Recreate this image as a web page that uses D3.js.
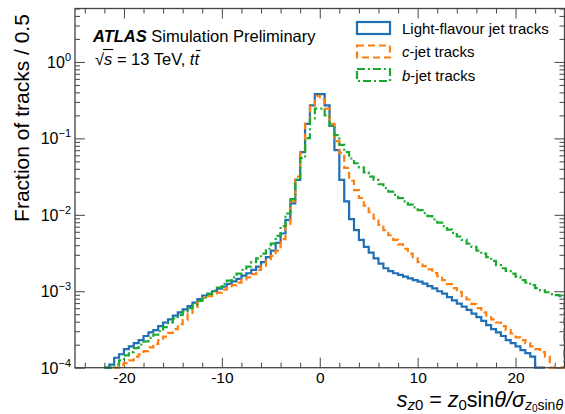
<!DOCTYPE html>
<html><head><meta charset="utf-8">
<script src="https://cdn.jsdelivr.net/npm/d3@7"></script>
<style>
body{margin:0;background:#fff}
svg{display:block}
text{font-family:"Liberation Sans",Arial,Helvetica,sans-serif}
</style>
</head><body>
<svg id="c" width="565" height="414"></svg>
<script>
// ---- data ----
// lower edges of the 0.5-wide bins
const binLow = [
 -22.5,-22,-21.5,-21,-20.5,-20,-19.5,-19,-18.5,-18,
 -17.5,-17,-16.5,-16,-15.5,-15,-14.5,-14,-13.5,-13,
 -12.5,-12,-11.5,-11,-10.5,-10,-9.5,-9,-8.5,-8,
 -7.5,-7,-6.5,-6,-5.5,-5,-4.5,-4,-3.5,-3,
 -2.5,-2,-1.5,-1,-0.5,0,0.5,1,1.5,2,
 2.5,3,3.5,4,4.5,5,5.5,6,6.5,7,
 7.5,8,8.5,9,9.5,10,10.5,11,11.5,12,
 12.5,13,13.5,14,14.5,15,15.5,16,16.5,17,
 17.5,18,18.5,19,19.5,20,20.5,21,21.5,22,
 22.5,23,23.5,24,24.5
];
const binWidth = 0.5;
const lightJet = [
 null,9e-5,1.1e-4,1.35e-4,1.5e-4,1.75e-4,1.9e-4,2.1e-4,2.3e-4,2.6e-4,
 2.9e-4,3.1e-4,3.5e-4,3.9e-4,4.3e-4,4.8e-4,5.3e-4,5.8e-4,6.4e-4,7.1e-4,
 7.9e-4,8.8e-4,9.3e-4,1.0e-3,1.08e-3,1.15e-3,1.25e-3,1.35e-3,1.45e-3,1.6e-3,
 1.72e-3,1.9e-3,2.1e-3,2.4e-3,2.8e-3,3.4e-3,4.3e-3,5.7e-3,8.6e-3,0.0141,
 0.0286,0.066,0.155,0.271,0.379,0.379,0.271,0.146,0.070,0.0286,
 0.015,0.0088,0.0063,0.0047,0.0038,0.0032,0.0027,0.0023,0.0020,0.00183,
 0.00172,0.00164,0.00155,0.00147,0.0014,0.00134,0.00126,0.00117,0.00109,0.001,
 0.00093,0.00084,0.00076,0.00069,0.00063,0.00057,0.00051,0.00046,0.00041,0.00036,
 0.00032,0.00029,0.00026,0.00023,0.00021,0.00019,0.00017,0.000155,0.00014,9e-5,
 9e-5,null,null,null,null
];
const cJet = [
 null,null,null,9e-5,1.1e-4,1.15e-4,1.25e-4,1.4e-4,1.5e-4,1.65e-4,
 1.85e-4,2.05e-4,2.3e-4,2.55e-4,2.85e-4,3.2e-4,3.7e-4,4.2e-4,5e-4,6e-4,
 7.2e-4,8.2e-4,8.6e-4,9e-4,9.6e-4,1.05e-3,1.12e-3,1.2e-3,1.3e-3,1.42e-3,
 1.52e-3,1.68e-3,1.9e-3,2.15e-3,2.5e-3,2.9e-3,3.4e-3,4.8e-3,7.2e-3,0.015,
 0.0316,0.069,0.155,0.262,0.361,0.325,0.245,0.155,0.092,0.0645,
 0.041,0.0279,0.021,0.0166,0.0132,0.0108,0.0089,0.0074,0.0063,0.0054,
 0.0047,0.0041,0.0036,0.0031,0.0027,0.0024,0.00213,0.00193,0.00173,0.00158,
 0.0014,0.00124,0.0011,0.00098,0.00086,0.00078,0.00068,0.0006,0.00053,0.00048,
 0.00043,0.00039,0.00035,0.00031,0.00028,0.00025,0.00023,0.00021,0.00019,0.000175,
 0.00016,0.00014,9e-5,9e-5,9e-5
];
const bJet = [
 null,9e-5,9e-5,1.1e-4,1.25e-4,1.45e-4,1.6e-4,1.8e-4,2.0e-4,2.2e-4,
 2.45e-4,2.7e-4,3.0e-4,3.4e-4,3.9e-4,4.4e-4,4.9e-4,5.4e-4,6.0e-4,6.7e-4,
 7.5e-4,8.3e-4,9.2e-4,1.02e-3,1.12e-3,1.25e-3,1.38e-3,1.52e-3,1.7e-3,1.9e-3,
 2.1e-3,2.4e-3,2.7e-3,3.1e-3,3.6e-3,4.2e-3,5.3e-3,7.1e-3,0.0104,0.016,
 0.0286,0.0553,0.101,0.182,0.245,0.245,0.2,0.146,0.11,0.082,
 0.066,0.0545,0.0473,0.0417,0.036,0.0316,0.0286,0.0251,0.0224,0.0201,
 0.0182,0.0165,0.015,0.0136,0.0125,0.0115,0.0105,0.0096,0.0087,0.0079,
 0.0071,0.0064,0.0058,0.0052,0.0047,0.0042,0.0038,0.0034,0.0031,0.0028,
 0.0025,0.0022,0.002,0.00185,0.0017,0.00155,0.0014,0.0013,0.0012,0.0011,
 0.00103,0.00097,0.00092,0.00089,0.00086
];
const xTicks = [-20,-10,0,10,20];
const yTickExps = [-4,-3,-2,-1,0];
const legendLabels = ["Light-flavour jet tracks","c-jet tracks","b-jet tracks"];

// ---- layout ----
const svg = d3.select('#c');
const m = {l:75, r:564.5, t:8.5, b:367.7};
const x = d3.scaleLinear().domain([-25,25]).range([m.l, m.r]);
const y = d3.scaleLog().domain([1e-4,5]).range([m.b, m.t]).clamp(true);
const axisCol = '#444';

const series = [
  {vals: lightJet, color:'#1f6fb4', dash:null},
  {vals: cJet, color:'#ff7f0e', dash:'7,4'},
  {vals: bJet, color:'#1aab2e', dash:'8,3,2,3'}
];

// axes ticks
const xMinor = d3.range(-24, 25, 2).filter(v => v % 10 !== 0);
const yMinor = [];
for (let e = -4; e <= 0; e++) for (let k = 2; k <= 9; k++) { const v = k*Math.pow(10,e); if (v <= 5) yMinor.push(v); }
const yMajor = yTickExps.map(e => Math.pow(10,e));

function styleAxis(g){ g.select('.domain').remove(); g.attr('color',axisCol); g.selectAll('line').attr('stroke-width',1); }

svg.append('g').attr('transform',`translate(0,${m.b})`).call(d3.axisBottom(x).tickValues(xTicks).tickSize(-10).tickPadding(4).tickFormat(d=>String(d))).call(styleAxis)
  .call(g=>g.selectAll('text').attr('fill','#000').attr('font-size',15.5).attr('font-family','"Liberation Sans",Arial,sans-serif'));
svg.append('g').attr('transform',`translate(0,${m.b})`).call(d3.axisBottom(x).tickValues(xMinor).tickSize(-5).tickFormat('')).call(styleAxis);
svg.append('g').attr('transform',`translate(0,${m.t})`).call(d3.axisTop(x).tickValues(xTicks).tickSize(-10).tickFormat('')).call(styleAxis);
svg.append('g').attr('transform',`translate(0,${m.t})`).call(d3.axisTop(x).tickValues(xMinor).tickSize(-5).tickFormat('')).call(styleAxis);
svg.append('g').attr('transform',`translate(${m.l},0)`).call(d3.axisLeft(y).tickValues(yMajor).tickSize(-10).tickFormat('')).call(styleAxis);
svg.append('g').attr('transform',`translate(${m.l},0)`).call(d3.axisLeft(y).tickValues(yMinor).tickSize(-5).tickFormat('')).call(styleAxis);
svg.append('g').attr('transform',`translate(${m.r},0)`).call(d3.axisRight(y).tickValues(yMajor).tickSize(-10).tickFormat('')).call(styleAxis);
svg.append('g').attr('transform',`translate(${m.r},0)`).call(d3.axisRight(y).tickValues(yMinor).tickSize(-5).tickFormat('')).call(styleAxis);

// y tick labels 10^e
yTickExps.forEach(e => {
  const t = svg.append('text').attr('x', 71).attr('y', y(Math.pow(10,e)) + 6).attr('text-anchor','end').attr('font-size',16);
  t.append('tspan').text('10');
  t.append('tspan').attr('font-size',11).attr('dy',-7).text(e === 0 ? '0' : '\u2212' + Math.abs(e));
});

// histograms
const clipId = 'plotclip';
svg.append('clipPath').attr('id',clipId).append('rect').attr('x',m.l).attr('y',0).attr('width',m.r-m.l+2).attr('height',m.b+3);
const plot = svg.append('g').attr('clip-path',`url(#${clipId})`);
series.forEach(s => {
  let d = '';
  let started = false, lastEdge = null;
  binLow.forEach((lo, i) => {
    const v = s.vals[i];
    if (v === null) return;
    const x0 = x(lo), x1 = x(lo + binWidth), yy = y(v);
    if (!started) { d += `M${x0},${m.b}L${x0},${yy}`; started = true; }
    else d += `L${x0},${yy}`;
    d += `L${x1},${yy}`;
    lastEdge = x1;
  });
  d += `L${lastEdge},${m.b}`;
  plot.append('path').attr('d', d).attr('fill','none').attr('stroke', s.color)
    .attr('stroke-width',2.2).attr('stroke-dasharray', s.dash).attr('stroke-linejoin','miter');
});

// frame
svg.append('rect').attr('x',m.l).attr('y',m.t).attr('width',m.r-m.l).attr('height',m.b-m.t)
  .attr('fill','none').attr('stroke',axisCol).attr('stroke-width',1.3);

// legend
const legY = [28, 51.5, 75];
series.forEach((s, i) => {
  svg.append('rect').attr('x',357).attr('y',legY[i]-6).attr('width',33).attr('height',12)
    .attr('fill','none').attr('stroke',s.color).attr('stroke-width',2.2).attr('stroke-dasharray',s.dash);
  const t = svg.append('text').attr('x',402).attr('y',legY[i]+5.5).attr('font-size',15);
  const lab = legendLabels[i];
  if (i === 0) t.text(lab);
  else { t.append('tspan').attr('font-style','italic').text(lab[0]); t.append('tspan').text(lab.slice(1)); }
});

// ATLAS label
const at = svg.append('text').attr('x',93).attr('y',42).attr('font-size',16.5);
at.append('tspan').attr('font-weight','bold').attr('font-style','italic').text('ATLAS');
at.append('tspan').text(' Simulation Preliminary');

const en = svg.append('text').attr('x',95).attr('y',65).attr('font-size',16.5);
en.append('tspan').text('\u221A');
en.append('tspan').attr('font-style','italic').text('s');
en.append('tspan').text(' = 13 TeV, ');
en.append('tspan').attr('font-style','italic').text('t');
en.append('tspan').attr('font-style','italic').text('t');
// overline for sqrt and tbar
{
  const node = en.node();
  const sqEnd = node.getEndPositionOfChar(0);
  const sEnd = node.getEndPositionOfChar(1);
  svg.append('line').attr('x1',sqEnd.x-1).attr('x2',sEnd.x+1).attr('y1',49.5).attr('y2',49.5).attr('stroke','#000').attr('stroke-width',1.1);
  const n = node.getNumberOfChars();
  const tS = node.getStartPositionOfChar(n-1), tE = node.getEndPositionOfChar(n-1);
  svg.append('line').attr('x1',tS.x+1.5).attr('x2',tE.x+1.5).attr('y1',50.5).attr('y2',50.5).attr('stroke','#000').attr('stroke-width',1.1);
}

// y axis title
svg.append('text').attr('transform',`translate(29,118) rotate(-90)`).attr('text-anchor','middle')
  .attr('font-size',21).text('Fraction of tracks / 0.5');

// x axis title
const xt = svg.append('text').attr('x',563).attr('y',407).attr('text-anchor','end').attr('font-size',21.5);
xt.append('tspan').attr('font-style','italic').text('s');
xt.append('tspan').attr('font-style','italic').attr('font-size',15).attr('dy',3).text('z');
xt.append('tspan').attr('font-size',15).text('0');
xt.append('tspan').attr('dy',-3).text(' = ');
xt.append('tspan').attr('font-style','italic').text('z');
xt.append('tspan').attr('font-size',15).attr('dy',3).text('0');
xt.append('tspan').attr('dy',-3).text('sin');
xt.append('tspan').attr('font-style','italic').text('\u03B8/\u03C3');
xt.append('tspan').attr('font-style','italic').attr('font-size',14).attr('dy',3).text('z');
xt.append('tspan').attr('font-size',10).attr('dy',2).text('0');
xt.append('tspan').attr('font-size',14).attr('dy',-2).text('sin');
xt.append('tspan').attr('font-size',14).attr('font-style','italic').text('\u03B8');
</script>
</body></html>
